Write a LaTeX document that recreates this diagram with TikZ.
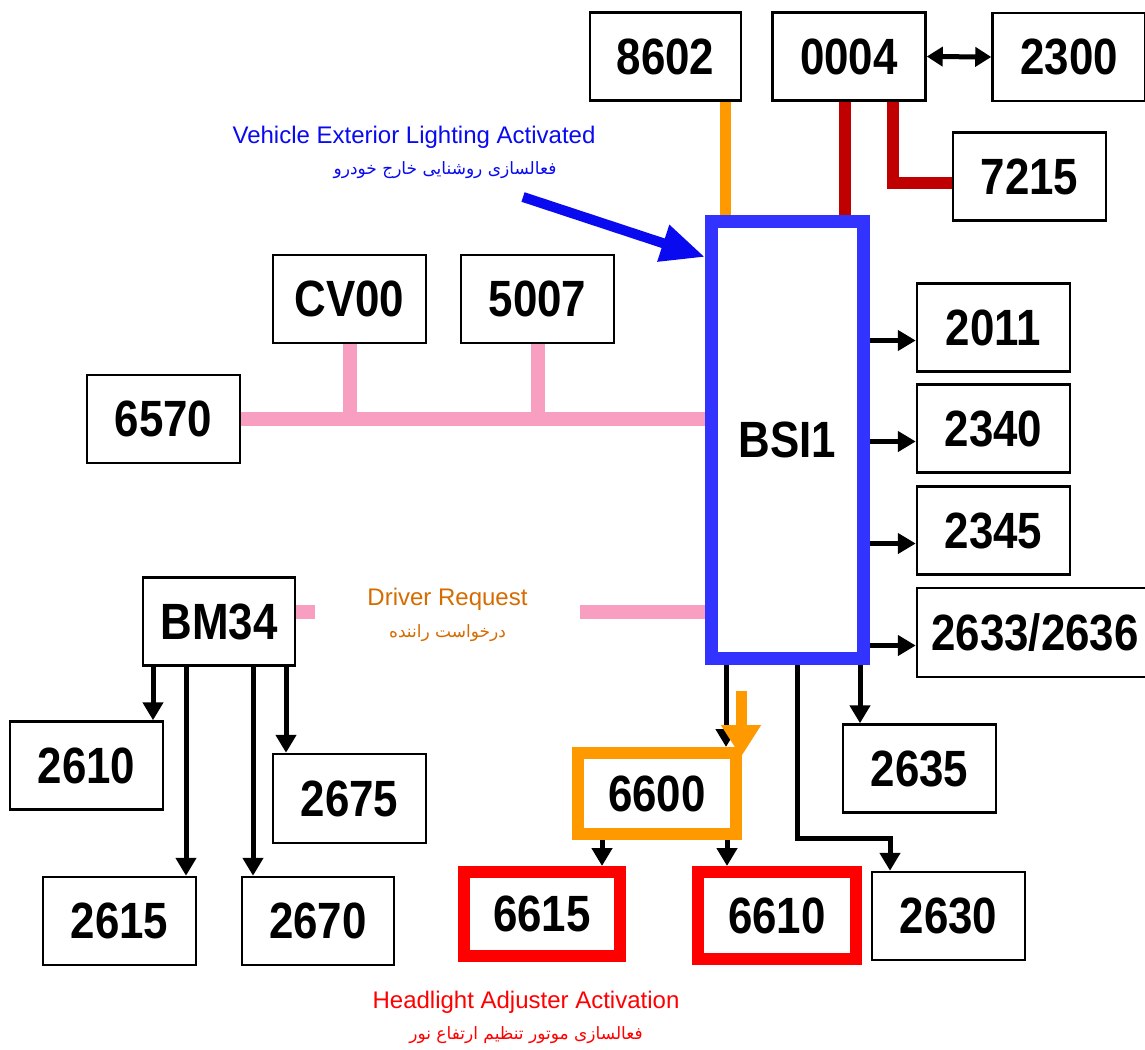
\documentclass[tikz,border=0pt]{standalone}
\usepackage{fontspec}
\setmainfont{Liberation Sans}
\newfontfamily\numfont[FakeStretch=0.86]{Liberation Sans}
\newfontfamily\farsi[Script=Arabic]{DejaVu Sans}
\TeXXeTstate=1
\usetikzlibrary{arrows.meta}

\definecolor{bsiblue}{RGB}{51,51,255}
\definecolor{lampblue}{RGB}{10,10,240}
\definecolor{canorange}{RGB}{255,153,0}
\definecolor{candark}{RGB}{192,0,0}
\definecolor{buspink}{RGB}{248,158,192}
\definecolor{reqbrown}{RGB}{214,108,0}
\definecolor{motorred}{RGB}{255,0,0}

\begin{document}
\begin{tikzpicture}[x=1pt,y=-1pt,>=Stealth,
  unit/.style={draw,line width=2.5pt,inner sep=0pt,minimum width=153pt,minimum height=88pt,
    font=\numfont\bfseries\fontsize{51pt}{51pt}\selectfont},
  arr/.style={line width=5pt,-{Triangle[length=18pt,width=20pt]}},
  bus/.style={buspink,line width=14pt},
  lbl/.style={font=\fontsize{24pt}{24pt}\selectfont,inner sep=0pt},
  lblfa/.style={font=\farsi\fontsize{17pt}{17pt}\selectfont,inner sep=0pt}]
  \fill[white] (0,0) rectangle (1145,1049);
  \useasboundingbox (0,0) rectangle (1145,1049);
  \foreach \x in {153,186,253,286,602,725,726,727,797,845,860,890,893}
    \coordinate (x\x) at (\x,0);

  % top row
  \node[unit,minimum width=151pt] (u8602) at (665.5,56.5) {8602};
  \node[unit] (u0004) at (849,56.5) {0004};
  \node[unit] (u2300) at (1069,57) {2300};
  \node[unit] (u7215) at (1029.5,176.5) {7215};
  \draw[line width=5pt,{Triangle[length=16pt,width=19pt]}-{Triangle[length=16pt,width=19pt]}] (u0004.east) -- (u2300.west);

  % BSI and its outputs
  \node[unit,draw=bsiblue,line width=13pt,minimum width=152pt,minimum height=437pt] (bsi) at (787.5,440) {BSI1};
  \node[unit] (u2011) at (993.5,327.5) {2011};
  \node[unit] (u2340) at (993.5,428.5) {2340};
  \node[unit] (u2345) at (993.5,530.5) {2345};
  \node[unit,minimum width=236pt,minimum height=89pt] (u2633) at (1035,632.5) {2633/2636};
  \foreach \t in {u2011,u2340,u2345,u2633}
    \draw[arr] ([yshift=-13pt]\t.west -| bsi.east) -- ([yshift=-13pt]\t.west);

  \draw[canorange,line width=11pt] (u8602.south -| x725) -- (bsi.north -| x725);
  \draw[candark,line width=12pt] (u0004.south -| x845) -- (bsi.north -| x845);
  \draw[candark,line width=12pt] (u0004.south -| x893) |- ([yshift=-6pt]u7215.west);

  % exterior lighting request
  \node[lbl,text=lampblue] (lamp) at (414,137) {Vehicle Exterior Lighting Activated};
  \node[lblfa,text=lampblue] (lampfa) at (445,170) {\beginR فعالسازی روشنایی خارج خودرو\endR};
  \coordinate (lamptail) at (523,197);
  \draw[lampblue,line width=10pt,-{Triangle[length=44pt,width=36pt]}] (lamptail) -- ([yshift=-42pt]bsi.north west);

  % pink bus
  \node[unit] (u6570) at (163.5,419) {6570};
  \node[unit] (cv00) at (349.5,299) {CV00};
  \node[unit] (u5007) at (537.5,299) {5007};
  \draw[bus] (u6570.east) -- (u6570.east -| bsi.west);
  \draw[bus] (cv00.south) -- (cv00.south |- u6570.east);
  \draw[bus] (u5007.south) -- (u5007.south |- u6570.east);

  % BM34
  \node[unit,minimum width=152pt] (bm34) at (219,621.5) {BM34};
  \node[unit] (u2610) at (86.5,765.5) {2610};
  \node[unit,minimum height=89pt] (u2675) at (349.5,798.5) {2675};
  \node[unit] (u2615) at (119.5,921) {2615};
  \node[unit,minimum width=152pt] (u2670) at (318,921) {2670};
  \foreach \x/\t in {153/u2610,186/u2615,253/u2670,286/u2675}
    \draw[arr] (bm34.south -| x\x) -- (\t.north -| x\x);

  \node[lbl,text=reqbrown,minimum width=265pt] (drv) at (447.5,599) {Driver Request};
  \node[lblfa,text=reqbrown] (drvfa) at (447.5,633) {\beginR درخواست راننده\endR};
  \path ([yshift=9.5pt]bm34.east) coordinate (reqline);
  \draw[bus] (reqline) -- (reqline -| drv.west);
  \draw[bus] (reqline -| drv.east) -- (reqline -| bsi.west);

  % headlight adjusters
  \node[unit,draw=canorange,line width=12pt,minimum width=158pt,minimum height=81pt] (u6600) at (657,793.5) {6600};
  \node[unit,draw=motorred,line width=12pt,minimum width=156pt,minimum height=84pt] (u6615) at (542,914) {6615};
  \node[unit,draw=motorred,line width=12pt,minimum width=158pt,minimum height=87pt] (u6610) at (777,915.5) {6610};
  \node[unit] (u2635) at (919.5,768.5) {2635};
  \node[unit] (u2630) at (948.5,916) {2630};
  \draw[arr] (bsi.south -| x726) -- (u6600.north -| x726);
  \draw[arr] (bsi.south -| x860) -- (u2635.north -| x860);
  \draw[arr] (bsi.south -| x797) -- ++(0,173) -| (u2630.north -| x890);
  \draw[arr] (u6600.south -| x602) -- (u6615.north -| x602);
  \draw[arr] (u6600.south -| x727) -- (u6610.north -| x727);
  \coordinate (reqtail) at (741,691);
  \draw[canorange,line width=11pt,-{Triangle[length=32pt,width=38pt]}] (reqtail) -- ([xshift=-1pt,yshift=-10pt]u6600.north east);

  \node[lbl,text=motorred] (motor) at (526,1002) {Headlight Adjuster Activation};
  \node[lblfa,text=motorred] (motorfa) at (526,1035) {\beginR فعالسازی موتور تنظیم ارتفاع نور\endR};
\end{tikzpicture}
\end{document}
